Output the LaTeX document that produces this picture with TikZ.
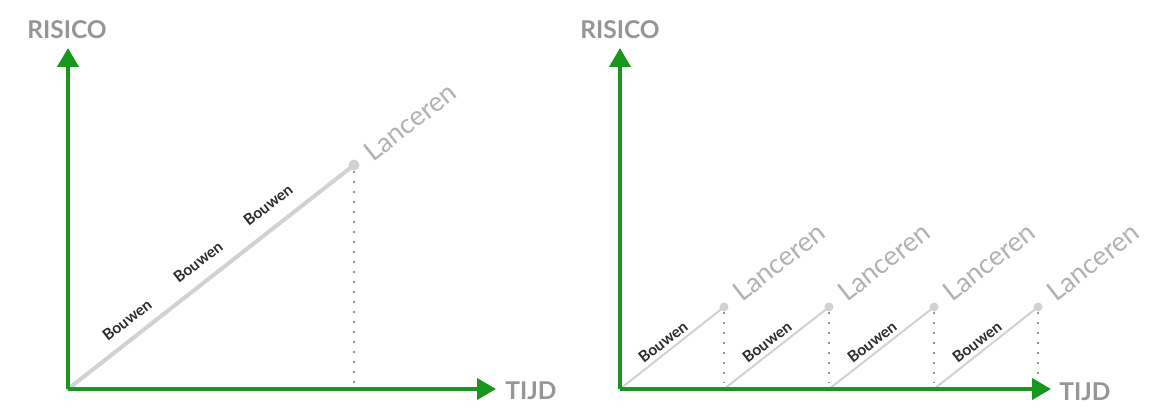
\documentclass[tikz,border=0pt]{standalone}
\usepackage{fontspec}
\setmainfont{Lato}
\usetikzlibrary{arrows.meta}
\definecolor{axisgreen}{RGB}{24,150,30}
\definecolor{linegray}{RGB}{210,210,210}
\definecolor{dotgray}{RGB}{150,150,150}
\definecolor{titlegray}{RGB}{150,150,150}
\definecolor{launchgray}{RGB}{178,178,178}
\definecolor{buildtext}{RGB}{45,45,45}
\begin{document}
\begin{tikzpicture}[x=1pt,y=-1pt,
  axis/.style={draw=axisgreen, line width=4, -{Triangle[length=19,width=21]}},
  bigline/.style={draw=linegray, line width=4, line cap=round},
  smallline/.style={draw=linegray, line width=2, line cap=round},
  ldot/.style={circle, fill=linegray, inner sep=0pt, minimum size=11pt},
  drop/.style={draw=dotgray, line width=2.4, dash pattern=on 2.4 off 7.6},
  axtitle/.style={text=titlegray, font=\fontsize{24.5}{24.5}\selectfont\bfseries, inner sep=0pt},
  launch/.style={text=launchgray, font=\fontsize{27}{27}\selectfont, rotate=38, inner sep=0pt},
  build/.style={text=buildtext, font=\fontsize{15.5}{15.5}\selectfont\bfseries, rotate=38, inner sep=0pt}
]
\useasboundingbox (0,0) rectangle (1175,417);
\fill[white] (0,0) rectangle (1175,417);

% ---------- left chart ----------
\coordinate (O1) at (68,389);
\coordinate (Y1) at (68,48);
\coordinate (X1) at (496,389);
\node[ldot] (D1) at (354,165) {};
\coordinate (F1) at (354,383);
\draw[bigline] (O1) -- (D1.center);
\draw[drop] (D1.south) -- (F1);
\node[launch] (L1) at (410,122) {Lanceren};
\node[build] (B11) at (127,320) {Bouwen};
\node[build] (B12) at (198,262) {Bouwen};
\node[build] (B13) at (268,205) {Bouwen};
\draw[axis] (O1) -- (Y1);
\draw[axis] (O1) -- (X1);
\node[axtitle] (R1) at (67,30) {RISICO};
\node[axtitle] (T1) at (531,391) {TIJD};

% ---------- right chart ----------
\coordinate (O2) at (620,389);
\coordinate (Y2) at (620,48);
\coordinate (X2) at (1051,389);
\foreach \i/\sx/\dx in {1/620/724, 2/724/829, 3/829/934, 4/934/1038}{
  \coordinate (S\i) at (\sx,389);
  \node[ldot, minimum size=9pt] (P\i) at (\dx,307) {};
  \coordinate (G\i) at (\dx,383);
  \draw[smallline] (S\i) -- (P\i.center);
  \draw[drop] (P\i.south) -- (G\i);
  \node[launch] (LL\i) at ([shift={(55,-45)}]P\i.center) {Lanceren};
  \node[build] (BB\i) at ([shift={(43,-47)}]S\i) {Bouwen};
}
\draw[axis] (O2) -- (Y2);
\draw[axis] (O2) -- (X2);
\node[axtitle] (R2) at (620,30) {RISICO};
\node[axtitle] (T2) at (1085,392) {TIJD};
\end{tikzpicture}
\end{document}
